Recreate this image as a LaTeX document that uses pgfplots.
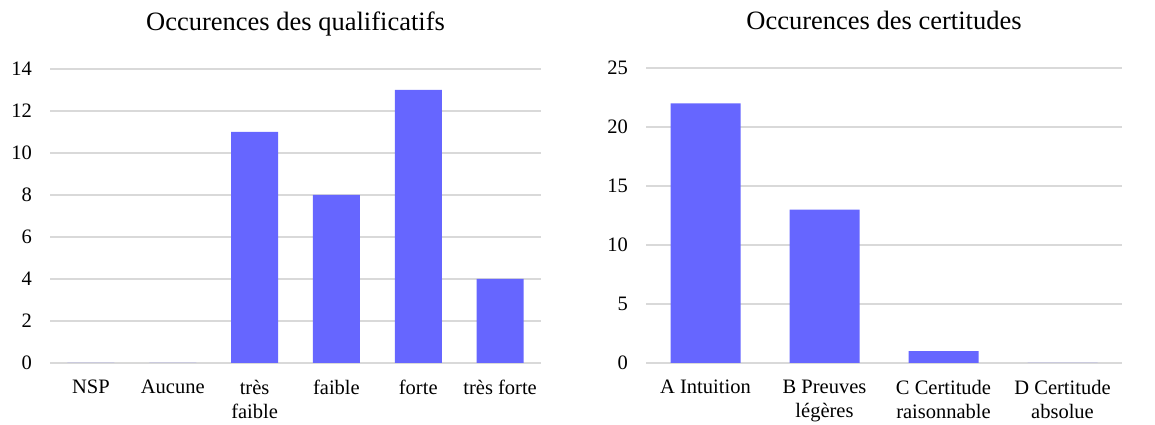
\documentclass[border=0pt]{standalone}
\usepackage{fontspec}
\setmainfont{Liberation Serif}
\usepackage{pgfplots}
\pgfplotsset{compat=1.18}
\definecolor{barblue}{HTML}{6666FF}
\definecolor{gridgray}{HTML}{D9D9D9}
\pgfplotsset{
  mystyle/.style={
    scale only axis,
    axis line style={draw=none},
    major tick length=0pt,
    ymajorgrids,
    grid style={gridgray, line width=1.6pt},
    ymin=0,
    xtick=data,
    xticklabel style={font=\fontsize{20.5}{24}\selectfont, align=center, anchor=north, inner sep=0pt, yshift=-17pt},
    yticklabel style={font=\fontsize{20.5}{24}\selectfont, anchor=east, inner sep=0pt, xshift=-18pt},
    /pgf/number format/assume math mode=true,
    title style={font=\fontsize{26.5}{30}\selectfont, at={(0.5,1)}, anchor=base, yshift=32pt, inner sep=0pt},
    ybar, bar shift=0pt,
    enlarge x limits=false,
    clip=false,
  }
}
\begin{document}
\begin{tikzpicture}[x=1pt,y=1pt]
\path[use as bounding box] (0,0) rectangle (1155,425);
\begin{axis}[mystyle,
  at={(50pt,62pt)}, anchor=south west,
  width=491pt, height=294pt,
  xmin=-0.5, xmax=5.5, ymax=14,
  ytick={0,2,...,14},
  xticklabels={NSP, Aucune, très\\faible, faible, forte, très forte},
  bar width=47pt,
  title={Occurences des qualificatifs}]
\addplot[fill=barblue, draw=none] coordinates {(0,0) (1,0) (2,11) (3,8) (4,13) (5,4)};
\end{axis}
\begin{axis}[mystyle,
  at={(646pt,62pt)}, anchor=south west,
  width=476pt, height=295pt,
  xmin=-0.5, xmax=3.5, ymax=25,
  ytick={0,5,...,25},
  xticklabels={A Intuition, B Preuves\\légères, C Certitude\\raisonnable, D Certitude\\absolue},
  bar width=70pt,
  title={Occurences des certitudes}]
\addplot[fill=barblue, draw=none] coordinates {(0,22) (1,13) (2,1) (3,0)};
\end{axis}
\end{tikzpicture}
\end{document}
